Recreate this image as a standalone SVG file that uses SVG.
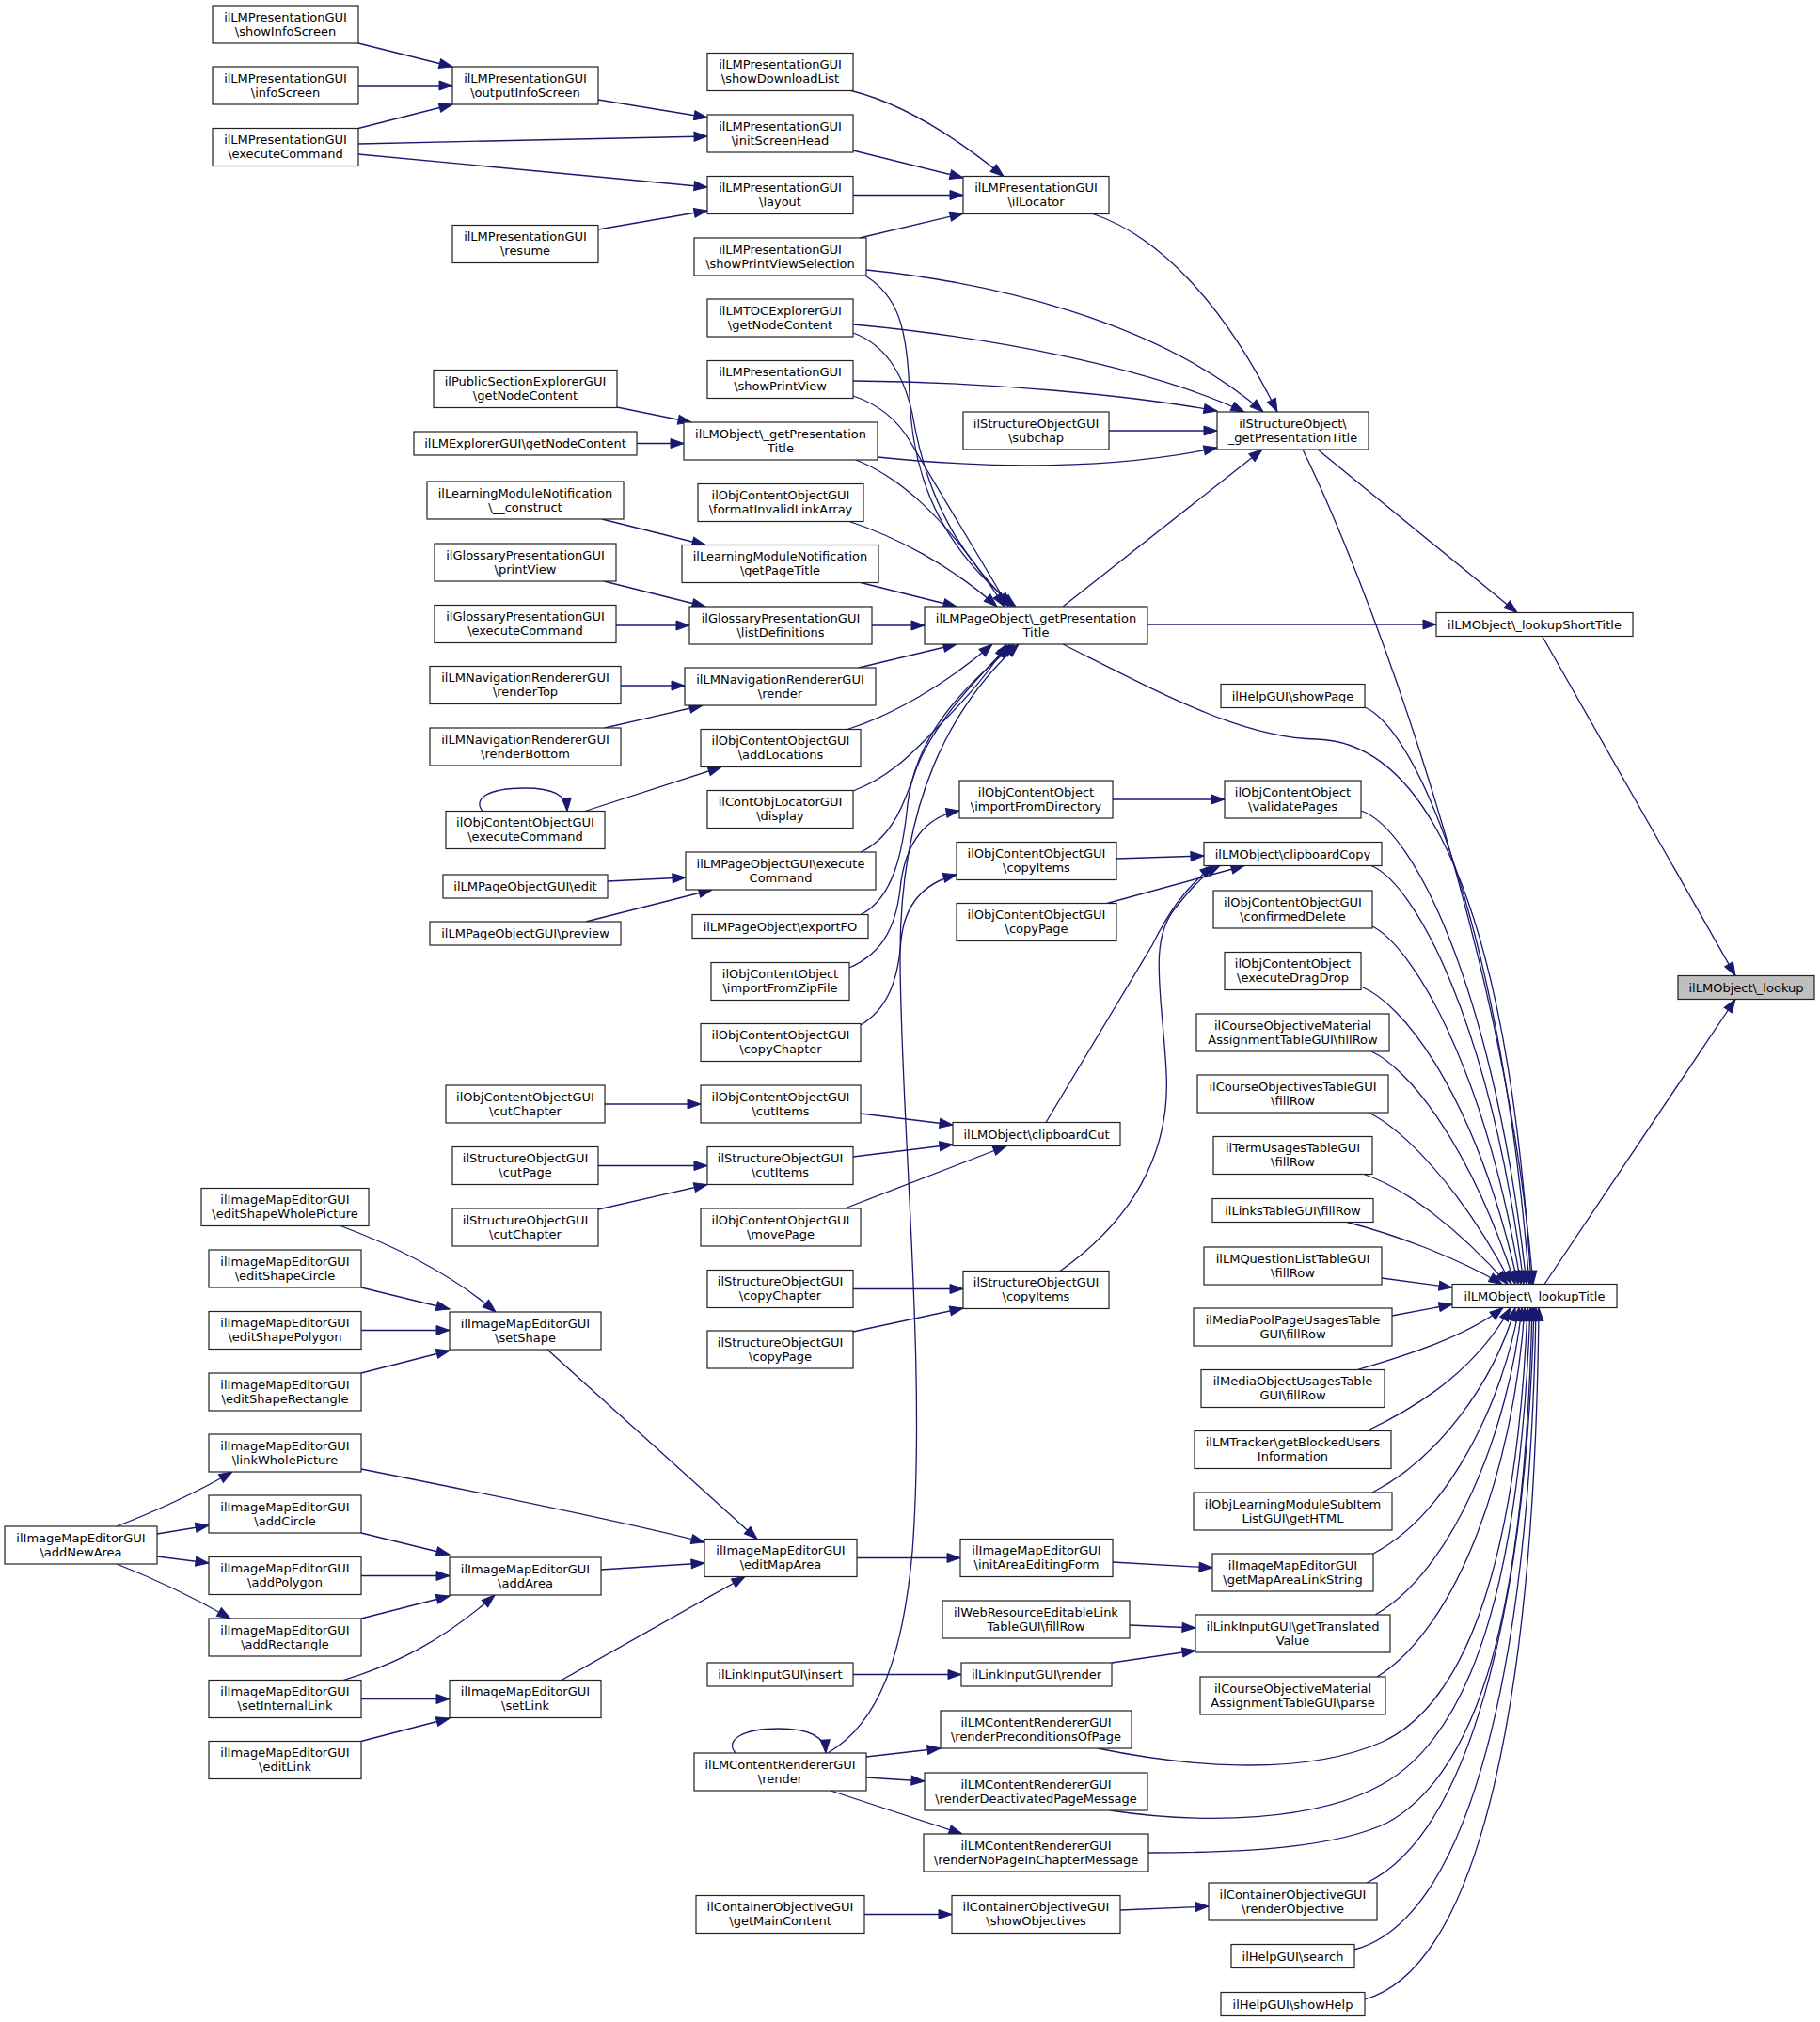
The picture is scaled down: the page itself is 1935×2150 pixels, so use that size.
<svg xmlns="http://www.w3.org/2000/svg" width="1935" height="2150" viewBox="0 0 1935 2150">
<style>
.n rect{fill:#fff;stroke:#222;stroke-width:1.2}
.root rect{fill:#bfbfbf}
text{font-family:"DejaVu Sans","Liberation Sans",sans-serif;font-size:13px;text-anchor:middle;fill:#000}
.e path{fill:none;stroke:#191970;stroke-width:1.3;marker-end:url(#a)}
</style>
<defs>
<marker id="a" markerUnits="userSpaceOnUse" markerWidth="16" markerHeight="12" refX="14" refY="5" orient="auto" overflow="visible"><path d="M0,0 L14,5 L0,10 z" fill="#191970" stroke="#191970" stroke-width="1"/></marker>
</defs>
<rect width="1935" height="2150" fill="#fff"/>
<g id="edges" class="e">
<path d="M1640,677 L1845,1037.5"/>
<path d="M1642,1365.5 L1845,1062.5"/>
<path d="M1220,664 L1527,664"/>
<path d="M1401,478 L1613,651.5"/>
<path d="M1385,478 C1450,610 1600,1000 1630,1365.5"/>
<path d="M1130,685 C1230,735 1320,785 1400,786 C1530,790 1605,1000 1628,1365.5"/>
<path d="M1451,752 C1510,778 1598,1000 1626,1365.5"/>
<path d="M1447,862 C1505,882 1590,1060 1623,1365.5"/>
<path d="M1458,920.5 C1505,940 1585,1090 1620,1365.5"/>
<path d="M1459,985 C1500,1005 1578,1130 1617,1365.5"/>
<path d="M1447,1049 C1490,1066 1568,1160 1614,1365.5"/>
<path d="M1458,1118 C1495,1135 1560,1210 1611,1365.5"/>
<path d="M1455,1183 C1490,1200 1552,1260 1607,1365.5"/>
<path d="M1450,1248.5 C1490,1262 1545,1300 1603,1365.5"/>
<path d="M1432,1299.5 C1480,1312 1545,1335 1597,1365.5"/>
<path d="M1469,1359 L1544,1369"/>
<path d="M1480,1399 L1544,1387"/>
<path d="M1443,1456.5 C1500,1440 1560,1420 1598,1390.5"/>
<path d="M1453,1521.5 C1520,1490 1572,1450 1606,1390.5"/>
<path d="M1459,1587 C1530,1550 1588,1470 1611,1390.5"/>
<path d="M1460,1652 C1540,1610 1598,1490 1615,1390.5"/>
<path d="M1462,1717 C1545,1670 1604,1520 1618,1390.5"/>
<path d="M1464,1783 C1550,1730 1610,1560 1621,1390.5"/>
<path d="M1167,1859 C1250,1876 1380,1892 1470,1852 C1565,1808 1614,1640 1624,1390.5"/>
<path d="M1180,1925 C1280,1940 1400,1937 1470,1897 C1572,1840 1617,1660 1627,1390.5"/>
<path d="M1221,1970 C1320,1970 1420,1965 1475,1938 C1580,1880 1622,1690 1629,1390.5"/>
<path d="M1453,2002 C1560,1950 1622,1720 1631,1390.5"/>
<path d="M1440,2073 C1565,2040 1627,1760 1633,1390.5"/>
<path d="M1451,2126 C1575,2090 1632,1800 1636,1390.5"/>
<path d="M1162,227.5 C1230,250 1300,320 1358,438"/>
<path d="M921,287 C1050,300 1230,340 1343,438"/>
<path d="M907,345 C1050,358 1220,390 1323,438"/>
<path d="M907,405 C1050,406 1200,420 1294,437"/>
<path d="M1179,458 L1294,458"/>
<path d="M933,486 C1050,498 1180,500 1294,476"/>
<path d="M1130,645 L1342,478"/>
<path d="M905,96.5 C960,110 1015,145 1067,187.5"/>
<path d="M907,160 L1024,189"/>
<path d="M907,207.5 L1024,207.5"/>
<path d="M914,253 L1024,227"/>
<path d="M381,46 L481,71"/>
<path d="M381,91 L481,91"/>
<path d="M381,136.5 L481,111"/>
<path d="M636,106 L752,125"/>
<path d="M381,153 L752,145"/>
<path d="M381,164 L752,199"/>
<path d="M636,244 L752,224"/>
<path d="M656,433 L735,449"/>
<path d="M677,471.5 L727,471.5"/>
<path d="M640,552 L750,579.5"/>
<path d="M642,618 L750,645"/>
<path d="M655,665 L733,665"/>
<path d="M660,729 L728,729"/>
<path d="M643,774 L747,750"/>
<path d="M622,862.5 L767,815.5"/>
<path d="M513,862.5 C503,850 517,838 558,838 C588,838 602,845 603,862.5"/>
<path d="M646,937 L729,933"/>
<path d="M623,980 L757,946"/>
<path d="M921,294 C955,315 965,350 967,420 C970,520 1010,590 1080,645"/>
<path d="M907,354 C940,366 960,395 970,440 C985,530 1020,590 1076,645"/>
<path d="M907,421 C935,430 955,448 968,470 C1000,525 1040,590 1072,645"/>
<path d="M910,489 C950,505 1000,540 1068,645"/>
<path d="M903,554.5 C950,570 1010,600 1060,645"/>
<path d="M915,619.5 L1017,645"/>
<path d="M927,665 L983,665"/>
<path d="M913,710 L1017,685"/>
<path d="M901,775.5 C950,760 1005,728 1055,685"/>
<path d="M907,841 C950,825 975,795 1000,770 C1030,740 1055,710 1070,685"/>
<path d="M915,906 C950,890 962,852 975,815 C995,765 1045,715 1074,685"/>
<path d="M915,972.5 C950,955 960,905 965,855 C975,770 1040,720 1078,685"/>
<path d="M903,1029 C935,1015 952,990 957,945 C962,895 985,868 1020,862"/>
<path d="M915,1090 C945,1072 955,1040 958,1000 C962,958 985,938 1017,930"/>
<path d="M880,1864 C935,1832 960,1760 970,1650 C985,1450 958,1200 957,1020 C956,850 1012,750 1083,685"/>
<path d="M1187,913 L1280,910"/>
<path d="M1177,960.5 L1323,920.5"/>
<path d="M1112,1193.5 L1225,1005 C1240,975 1258,945 1290,920.5"/>
<path d="M1127,1351.5 C1200,1300 1245,1230 1240,1140 C1236,1060 1220,1000 1250,965 C1262,950 1278,930 1297,920.5"/>
<path d="M1183,850 L1302,850"/>
<path d="M915,1184 L1013,1196"/>
<path d="M907,1230 L1013,1217"/>
<path d="M898,1285 L1070,1218.5"/>
<path d="M643,1174 L745,1174"/>
<path d="M636,1239.5 L752,1239.5"/>
<path d="M636,1286 L752,1259.5"/>
<path d="M907,1370.5 L1024,1370.5"/>
<path d="M907,1416 L1024,1391"/>
<path d="M362,1303.5 C420,1325 480,1355 527,1395"/>
<path d="M384,1369 L478,1392"/>
<path d="M384,1414.5 L478,1414.5"/>
<path d="M384,1460 L478,1436"/>
<path d="M582,1435 L805,1636.5"/>
<path d="M384,1562 C500,1585 650,1615 749,1640"/>
<path d="M639,1669 L749,1662"/>
<path d="M597,1786.5 L792,1676.5"/>
<path d="M384,1630 L478,1653"/>
<path d="M384,1675.5 L478,1675.5"/>
<path d="M384,1721 L478,1697"/>
<path d="M365,1786.5 C420,1770 470,1745 526,1696"/>
<path d="M384,1806.5 L478,1806.5"/>
<path d="M384,1851.5 L478,1827"/>
<path d="M124,1623 C160,1609 200,1592 247,1565"/>
<path d="M167,1631 L222,1622"/>
<path d="M167,1655 L222,1662"/>
<path d="M124,1663 C160,1677 200,1695 245,1721"/>
<path d="M911,1656.5 L1021,1656.5"/>
<path d="M1183,1661 L1289,1667"/>
<path d="M1201,1728 L1271,1731"/>
<path d="M1182,1768 L1271,1755"/>
<path d="M907,1780.5 L1022,1780.5"/>
<path d="M921,1868 L1000,1859"/>
<path d="M921,1890 L983,1894"/>
<path d="M883,1904 L1023,1950"/>
<path d="M782,1864 C770,1850 790,1838 828,1838 C860,1838 877,1846 878,1864"/>
<path d="M919,2035.5 L1012,2035.5"/>
<path d="M1191,2031 L1285,2027"/>
</g>
<g id="n0" class="n root"><rect x="1784" y="1037.5" width="145" height="25"/><text x="1856.5" y="1054.5">ilLMObject\_lookup</text></g>
<g id="n1" class="n"><rect x="1527" y="651.5" width="209" height="25"/><text x="1631.5" y="668.5">ilLMObject\_lookupShortTitle</text></g>
<g id="n2" class="n"><rect x="1544" y="1365.5" width="175" height="25"/><text x="1631.5" y="1382.5">ilLMObject\_lookupTitle</text></g>
<g id="n3" class="n"><rect x="1294" y="438" width="161" height="40"/><text x="1374.5" y="454.5">ilStructureObject\</text><text x="1374.5" y="469.5">_getPresentationTitle</text></g>
<g id="n4" class="n"><rect x="1298" y="727.5" width="153" height="25"/><text x="1374.5" y="744.5">ilHelpGUI\showPage</text></g>
<g id="n5" class="n"><rect x="1302" y="830" width="145" height="40"/><text x="1374.5" y="846.5">ilObjContentObject</text><text x="1374.5" y="861.5">\validatePages</text></g>
<g id="n6" class="n"><rect x="1280" y="895.5" width="189" height="25"/><text x="1374.5" y="912.5">ilLMObject\clipboardCopy</text></g>
<g id="n7" class="n"><rect x="1290" y="947" width="169" height="40"/><text x="1374.5" y="963.5">ilObjContentObjectGUI</text><text x="1374.5" y="978.5">\confirmedDelete</text></g>
<g id="n8" class="n"><rect x="1302" y="1012.5" width="145" height="40"/><text x="1374.5" y="1029">ilObjContentObject</text><text x="1374.5" y="1044">\executeDragDrop</text></g>
<g id="n9" class="n"><rect x="1272" y="1078" width="205" height="40"/><text x="1374.5" y="1094.5">ilCourseObjectiveMaterial</text><text x="1374.5" y="1109.5">AssignmentTableGUI\fillRow</text></g>
<g id="n10" class="n"><rect x="1273" y="1143" width="203" height="40"/><text x="1374.5" y="1159.5">ilCourseObjectivesTableGUI</text><text x="1374.5" y="1174.5">\fillRow</text></g>
<g id="n11" class="n"><rect x="1290" y="1208.5" width="169" height="40"/><text x="1374.5" y="1225">ilTermUsagesTableGUI</text><text x="1374.5" y="1240">\fillRow</text></g>
<g id="n12" class="n"><rect x="1289" y="1274.5" width="171" height="25"/><text x="1374.5" y="1291.5">ilLinksTableGUI\fillRow</text></g>
<g id="n13" class="n"><rect x="1280" y="1326" width="189" height="40"/><text x="1374.5" y="1342.5">ilLMQuestionListTableGUI</text><text x="1374.5" y="1357.5">\fillRow</text></g>
<g id="n14" class="n"><rect x="1269" y="1391" width="211" height="40"/><text x="1374.5" y="1407.5">ilMediaPoolPageUsagesTable</text><text x="1374.5" y="1422.5">GUI\fillRow</text></g>
<g id="n15" class="n"><rect x="1277" y="1456.5" width="195" height="40"/><text x="1374.5" y="1473">ilMediaObjectUsagesTable</text><text x="1374.5" y="1488">GUI\fillRow</text></g>
<g id="n16" class="n"><rect x="1270" y="1521.5" width="209" height="40"/><text x="1374.5" y="1538">ilLMTracker\getBlockedUsers</text><text x="1374.5" y="1553">Information</text></g>
<g id="n17" class="n"><rect x="1269" y="1587" width="211" height="40"/><text x="1374.5" y="1603.5">ilObjLearningModuleSubItem</text><text x="1374.5" y="1618.5">ListGUI\getHTML</text></g>
<g id="n18" class="n"><rect x="1289" y="1652" width="171" height="40"/><text x="1374.5" y="1668.5">ilImageMapEditorGUI</text><text x="1374.5" y="1683.5">\getMapAreaLinkString</text></g>
<g id="n19" class="n"><rect x="1271" y="1717" width="207" height="40"/><text x="1374.5" y="1733.5">ilLinkInputGUI\getTranslated</text><text x="1374.5" y="1748.5">Value</text></g>
<g id="n20" class="n"><rect x="1276" y="1783" width="197" height="40"/><text x="1374.5" y="1799.5">ilCourseObjectiveMaterial</text><text x="1374.5" y="1814.5">AssignmentTableGUI\parse</text></g>
<g id="n21" class="n"><rect x="1285" y="2002" width="179" height="40"/><text x="1374.5" y="2018.5">ilContainerObjectiveGUI</text><text x="1374.5" y="2033.5">\renderObjective</text></g>
<g id="n22" class="n"><rect x="1309" y="2067.5" width="131" height="25"/><text x="1374.5" y="2084.5">ilHelpGUI\search</text></g>
<g id="n23" class="n"><rect x="1298" y="2118.5" width="153" height="25"/><text x="1374.5" y="2135.5">ilHelpGUI\showHelp</text></g>
<g id="n24" class="n"><rect x="1024" y="187.5" width="155" height="40"/><text x="1101.5" y="204">ilLMPresentationGUI</text><text x="1101.5" y="219">\ilLocator</text></g>
<g id="n25" class="n"><rect x="1024" y="438" width="155" height="40"/><text x="1101.5" y="454.5">ilStructureObjectGUI</text><text x="1101.5" y="469.5">\subchap</text></g>
<g id="n26" class="n"><rect x="983" y="645" width="237" height="40"/><text x="1101.5" y="661.5">ilLMPageObject\_getPresentation</text><text x="1101.5" y="676.5">Title</text></g>
<g id="n27" class="n"><rect x="1020" y="830" width="163" height="40"/><text x="1101.5" y="846.5">ilObjContentObject</text><text x="1101.5" y="861.5">\importFromDirectory</text></g>
<g id="n28" class="n"><rect x="1017" y="895.5" width="170" height="40"/><text x="1102" y="912">ilObjContentObjectGUI</text><text x="1102" y="927">\copyItems</text></g>
<g id="n29" class="n"><rect x="1017" y="960.5" width="170" height="40"/><text x="1102" y="977">ilObjContentObjectGUI</text><text x="1102" y="992">\copyPage</text></g>
<g id="n30" class="n"><rect x="1013" y="1193.5" width="178" height="25"/><text x="1102" y="1210.5">ilLMObject\clipboardCut</text></g>
<g id="n31" class="n"><rect x="1024" y="1351.5" width="155" height="40"/><text x="1101.5" y="1368">ilStructureObjectGUI</text><text x="1101.5" y="1383">\copyItems</text></g>
<g id="n32" class="n"><rect x="1021" y="1636.5" width="162" height="40"/><text x="1102" y="1653">ilImageMapEditorGUI</text><text x="1102" y="1668">\initAreaEditingForm</text></g>
<g id="n33" class="n"><rect x="1002" y="1702" width="199" height="40"/><text x="1101.5" y="1718.5">ilWebResourceEditableLink</text><text x="1101.5" y="1733.5">TableGUI\fillRow</text></g>
<g id="n34" class="n"><rect x="1022" y="1768" width="160" height="25"/><text x="1102" y="1785">ilLinkInputGUI\render</text></g>
<g id="n35" class="n"><rect x="1000" y="1819" width="203" height="40"/><text x="1101.5" y="1835.5">ilLMContentRendererGUI</text><text x="1101.5" y="1850.5">\renderPreconditionsOfPage</text></g>
<g id="n36" class="n"><rect x="983" y="1885" width="237" height="40"/><text x="1101.5" y="1901.5">ilLMContentRendererGUI</text><text x="1101.5" y="1916.5">\renderDeactivatedPageMessage</text></g>
<g id="n37" class="n"><rect x="982" y="1950" width="239" height="40"/><text x="1101.5" y="1966.5">ilLMContentRendererGUI</text><text x="1101.5" y="1981.5">\renderNoPageInChapterMessage</text></g>
<g id="n38" class="n"><rect x="1012" y="2015.5" width="179" height="40"/><text x="1101.5" y="2032">ilContainerObjectiveGUI</text><text x="1101.5" y="2047">\showObjectives</text></g>
<g id="n39" class="n"><rect x="752" y="56.5" width="155" height="40"/><text x="829.5" y="73">ilLMPresentationGUI</text><text x="829.5" y="88">\showDownloadList</text></g>
<g id="n40" class="n"><rect x="752" y="122" width="155" height="40"/><text x="829.5" y="138.5">ilLMPresentationGUI</text><text x="829.5" y="153.5">\initScreenHead</text></g>
<g id="n41" class="n"><rect x="752" y="187.5" width="155" height="40"/><text x="829.5" y="204">ilLMPresentationGUI</text><text x="829.5" y="219">\layout</text></g>
<g id="n42" class="n"><rect x="738" y="253" width="183" height="40"/><text x="829.5" y="269.5">ilLMPresentationGUI</text><text x="829.5" y="284.5">\showPrintViewSelection</text></g>
<g id="n43" class="n"><rect x="752" y="318" width="155" height="40"/><text x="829.5" y="334.5">ilLMTOCExplorerGUI</text><text x="829.5" y="349.5">\getNodeContent</text></g>
<g id="n44" class="n"><rect x="752" y="383.5" width="155" height="40"/><text x="829.5" y="400">ilLMPresentationGUI</text><text x="829.5" y="415">\showPrintView</text></g>
<g id="n45" class="n"><rect x="727" y="449" width="206" height="40"/><text x="830" y="465.5">ilLMObject\_getPresentation</text><text x="830" y="480.5">Title</text></g>
<g id="n46" class="n"><rect x="742" y="514.5" width="176" height="40"/><text x="830" y="531">ilObjContentObjectGUI</text><text x="830" y="546">\formatInvalidLinkArray</text></g>
<g id="n47" class="n"><rect x="725" y="579.5" width="209" height="40"/><text x="829.5" y="596">ilLearningModuleNotification</text><text x="829.5" y="611">\getPageTitle</text></g>
<g id="n48" class="n"><rect x="733" y="645" width="194" height="40"/><text x="830" y="661.5">ilGlossaryPresentationGUI</text><text x="830" y="676.5">\listDefinitions</text></g>
<g id="n49" class="n"><rect x="728" y="710" width="203" height="40"/><text x="829.5" y="726.5">ilLMNavigationRendererGUI</text><text x="829.5" y="741.5">\render</text></g>
<g id="n50" class="n"><rect x="745" y="775.5" width="170" height="40"/><text x="830" y="792">ilObjContentObjectGUI</text><text x="830" y="807">\addLocations</text></g>
<g id="n51" class="n"><rect x="752" y="840.5" width="155" height="40"/><text x="829.5" y="857">ilContObjLocatorGUI</text><text x="829.5" y="872">\display</text></g>
<g id="n52" class="n"><rect x="729" y="906" width="202" height="40"/><text x="830" y="922.5">ilLMPageObjectGUI\execute</text><text x="830" y="937.5">Command</text></g>
<g id="n53" class="n"><rect x="736" y="972.5" width="187" height="25"/><text x="829.5" y="989.5">ilLMPageObject\exportFO</text></g>
<g id="n54" class="n"><rect x="756" y="1023.5" width="147" height="40"/><text x="829.5" y="1040">ilObjContentObject</text><text x="829.5" y="1055">\importFromZipFile</text></g>
<g id="n55" class="n"><rect x="745" y="1088.5" width="170" height="40"/><text x="830" y="1105">ilObjContentObjectGUI</text><text x="830" y="1120">\copyChapter</text></g>
<g id="n56" class="n"><rect x="745" y="1154" width="170" height="40"/><text x="830" y="1170.5">ilObjContentObjectGUI</text><text x="830" y="1185.5">\cutItems</text></g>
<g id="n57" class="n"><rect x="752" y="1219.5" width="155" height="40"/><text x="829.5" y="1236">ilStructureObjectGUI</text><text x="829.5" y="1251">\cutItems</text></g>
<g id="n58" class="n"><rect x="745" y="1285" width="170" height="40"/><text x="830" y="1301.5">ilObjContentObjectGUI</text><text x="830" y="1316.5">\movePage</text></g>
<g id="n59" class="n"><rect x="752" y="1350.5" width="155" height="40"/><text x="829.5" y="1367">ilStructureObjectGUI</text><text x="829.5" y="1382">\copyChapter</text></g>
<g id="n60" class="n"><rect x="752" y="1415" width="155" height="40"/><text x="829.5" y="1431.5">ilStructureObjectGUI</text><text x="829.5" y="1446.5">\copyPage</text></g>
<g id="n61" class="n"><rect x="749" y="1636.5" width="162" height="40"/><text x="830" y="1653">ilImageMapEditorGUI</text><text x="830" y="1668">\editMapArea</text></g>
<g id="n62" class="n"><rect x="752" y="1768" width="155" height="25"/><text x="829.5" y="1785">ilLinkInputGUI\insert</text></g>
<g id="n63" class="n"><rect x="738" y="1864" width="183" height="40"/><text x="829.5" y="1880.5">ilLMContentRendererGUI</text><text x="829.5" y="1895.5">\render</text></g>
<g id="n64" class="n"><rect x="740" y="2015.5" width="179" height="40"/><text x="829.5" y="2032">ilContainerObjectiveGUI</text><text x="829.5" y="2047">\getMainContent</text></g>
<g id="n65" class="n"><rect x="481" y="71" width="155" height="40"/><text x="558.5" y="87.5">ilLMPresentationGUI</text><text x="558.5" y="102.5">\outputInfoScreen</text></g>
<g id="n66" class="n"><rect x="481" y="239.5" width="155" height="40"/><text x="558.5" y="256">ilLMPresentationGUI</text><text x="558.5" y="271">\resume</text></g>
<g id="n67" class="n"><rect x="461" y="393.5" width="195" height="40"/><text x="558.5" y="410">ilPublicSectionExplorerGUI</text><text x="558.5" y="425">\getNodeContent</text></g>
<g id="n68" class="n"><rect x="440" y="459" width="237" height="25"/><text x="558.5" y="476">ilLMExplorerGUI\getNodeContent</text></g>
<g id="n69" class="n"><rect x="454" y="512" width="209" height="40"/><text x="558.5" y="528.5">ilLearningModuleNotification</text><text x="558.5" y="543.5">\__construct</text></g>
<g id="n70" class="n"><rect x="462" y="578" width="193" height="40"/><text x="558.5" y="594.5">ilGlossaryPresentationGUI</text><text x="558.5" y="609.5">\printView</text></g>
<g id="n71" class="n"><rect x="462" y="643.5" width="193" height="40"/><text x="558.5" y="660">ilGlossaryPresentationGUI</text><text x="558.5" y="675">\executeCommand</text></g>
<g id="n72" class="n"><rect x="457" y="708.5" width="203" height="40"/><text x="558.5" y="725">ilLMNavigationRendererGUI</text><text x="558.5" y="740">\renderTop</text></g>
<g id="n73" class="n"><rect x="457" y="774" width="203" height="40"/><text x="558.5" y="790.5">ilLMNavigationRendererGUI</text><text x="558.5" y="805.5">\renderBottom</text></g>
<g id="n74" class="n"><rect x="474" y="862.5" width="169" height="40"/><text x="558.5" y="879">ilObjContentObjectGUI</text><text x="558.5" y="894">\executeCommand</text></g>
<g id="n75" class="n"><rect x="471" y="930" width="175" height="25"/><text x="558.5" y="947">ilLMPageObjectGUI\edit</text></g>
<g id="n76" class="n"><rect x="457" y="980" width="203" height="25"/><text x="558.5" y="997">ilLMPageObjectGUI\preview</text></g>
<g id="n77" class="n"><rect x="474" y="1154" width="169" height="40"/><text x="558.5" y="1170.5">ilObjContentObjectGUI</text><text x="558.5" y="1185.5">\cutChapter</text></g>
<g id="n78" class="n"><rect x="481" y="1219.5" width="155" height="40"/><text x="558.5" y="1236">ilStructureObjectGUI</text><text x="558.5" y="1251">\cutPage</text></g>
<g id="n79" class="n"><rect x="481" y="1285" width="155" height="40"/><text x="558.5" y="1301.5">ilStructureObjectGUI</text><text x="558.5" y="1316.5">\cutChapter</text></g>
<g id="n80" class="n"><rect x="478" y="1395" width="161" height="40"/><text x="558.5" y="1411.5">ilImageMapEditorGUI</text><text x="558.5" y="1426.5">\setShape</text></g>
<g id="n81" class="n"><rect x="478" y="1656" width="161" height="40"/><text x="558.5" y="1672.5">ilImageMapEditorGUI</text><text x="558.5" y="1687.5">\addArea</text></g>
<g id="n82" class="n"><rect x="478" y="1786.5" width="161" height="40"/><text x="558.5" y="1803">ilImageMapEditorGUI</text><text x="558.5" y="1818">\setLink</text></g>
<g id="n83" class="n"><rect x="226" y="6" width="155" height="40"/><text x="303.5" y="22.5">ilLMPresentationGUI</text><text x="303.5" y="37.5">\showInfoScreen</text></g>
<g id="n84" class="n"><rect x="226" y="71" width="155" height="40"/><text x="303.5" y="87.5">ilLMPresentationGUI</text><text x="303.5" y="102.5">\infoScreen</text></g>
<g id="n85" class="n"><rect x="226" y="136.5" width="155" height="40"/><text x="303.5" y="153">ilLMPresentationGUI</text><text x="303.5" y="168">\executeCommand</text></g>
<g id="n86" class="n"><rect x="214" y="1263.5" width="178" height="40"/><text x="303" y="1280">ilImageMapEditorGUI</text><text x="303" y="1295">\editShapeWholePicture</text></g>
<g id="n87" class="n"><rect x="222" y="1329" width="162" height="40"/><text x="303" y="1345.5">ilImageMapEditorGUI</text><text x="303" y="1360.5">\editShapeCircle</text></g>
<g id="n88" class="n"><rect x="222" y="1394.5" width="162" height="40"/><text x="303" y="1411">ilImageMapEditorGUI</text><text x="303" y="1426">\editShapePolygon</text></g>
<g id="n89" class="n"><rect x="222" y="1460" width="162" height="40"/><text x="303" y="1476.5">ilImageMapEditorGUI</text><text x="303" y="1491.5">\editShapeRectangle</text></g>
<g id="n90" class="n"><rect x="222" y="1525" width="162" height="40"/><text x="303" y="1541.5">ilImageMapEditorGUI</text><text x="303" y="1556.5">\linkWholePicture</text></g>
<g id="n91" class="n"><rect x="222" y="1590" width="162" height="40"/><text x="303" y="1606.5">ilImageMapEditorGUI</text><text x="303" y="1621.5">\addCircle</text></g>
<g id="n92" class="n"><rect x="222" y="1655.5" width="162" height="40"/><text x="303" y="1672">ilImageMapEditorGUI</text><text x="303" y="1687">\addPolygon</text></g>
<g id="n93" class="n"><rect x="222" y="1721" width="162" height="40"/><text x="303" y="1737.5">ilImageMapEditorGUI</text><text x="303" y="1752.5">\addRectangle</text></g>
<g id="n94" class="n"><rect x="222" y="1786.5" width="162" height="40"/><text x="303" y="1803">ilImageMapEditorGUI</text><text x="303" y="1818">\setInternalLink</text></g>
<g id="n95" class="n"><rect x="222" y="1851.5" width="162" height="40"/><text x="303" y="1868">ilImageMapEditorGUI</text><text x="303" y="1883">\editLink</text></g>
<g id="n96" class="n"><rect x="5" y="1623" width="162" height="40"/><text x="86" y="1639.5">ilImageMapEditorGUI</text><text x="86" y="1654.5">\addNewArea</text></g>
</svg>
